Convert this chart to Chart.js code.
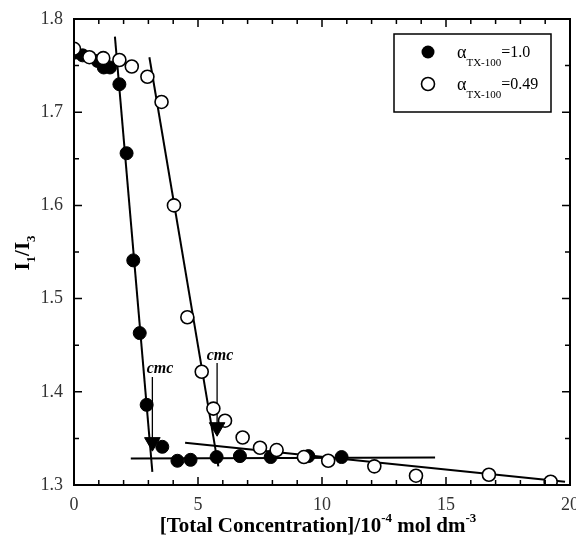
<!DOCTYPE html>
<html>
<head>
<meta charset="utf-8">
<script src="https://cdn.jsdelivr.net/npm/chart.js@4.4.0/dist/chart.umd.min.js"></script>
<style>
  html, body { margin: 0; padding: 0; background: #fff; }
  canvas { display: block; }
</style>
</head>
<body>
<canvas id="chart" width="576" height="538"></canvas>
<script>
/* I1/I3 vs total concentration, two TX-100 mole fractions */

// alpha TX-100 = 1.0 (filled circles)
const conc1 = [0.05, 0.35, 0.95, 1.2, 1.45, 1.83, 2.12, 2.39, 2.65, 2.93, 3.56, 4.17, 4.70, 5.75, 6.69, 7.93, 9.45, 10.79];
const ratio1 = [1.764, 1.761, 1.755, 1.748, 1.748, 1.730, 1.656, 1.541, 1.463, 1.386, 1.341, 1.326, 1.327, 1.330, 1.331, 1.330, 1.331, 1.330];

// alpha TX-100 = 0.49 (open circles)
const conc2 = [0.0, 0.62, 1.18, 1.83, 2.33, 2.96, 3.53, 4.03, 4.57, 5.15, 5.62, 6.09, 6.80, 7.50, 8.17, 9.27, 10.25, 12.11, 13.79, 16.73, 19.22];
const ratio2 = [1.768, 1.759, 1.758, 1.756, 1.749, 1.738, 1.711, 1.600, 1.480, 1.4215, 1.382, 1.369, 1.351, 1.340, 1.3375, 1.330, 1.326, 1.320, 1.310, 1.311, 1.3035];

// fitted straight lines (end points)
const fitSteep1X = [1.65, 3.16];
const fitSteep1Y = [1.781, 1.314];
const fitFlat1X = [2.29, 14.56];
const fitFlat1Y = [1.3285, 1.3295];
const fitSteep2X = [3.04, 5.82];
const fitSteep2Y = [1.759, 1.320];
const fitFlat2X = [4.48, 19.8];
const fitFlat2Y = [1.3454, 1.3035];

// cmc arrows: x, top of shaft, arrow head
const cmcX = [3.16, 5.77];
const cmcTop = [1.416, 1.431];
const cmcHead = [1.346, 1.362];
const cmcLabelX = [3.47, 5.89];
const cmcLabelY = [1.420, 1.434];

const xTickValues = [0, 5, 10, 15, 20];
const yTickValues = [1.3, 1.4, 1.5, 1.6, 1.7, 1.8];
const legendLabels = ['=1.0', '=0.49'];

const SERIF = '"Liberation Serif", "DejaVu Serif", serif';

function pts(xs, ys) {
    return xs.map((x, i) => ({ x: x, y: ys[i] }));
}

function lineSet(xs, ys, width) {
    return {
        data: pts(xs, ys),
        showLine: true,
        borderColor: '#000',
        borderWidth: width,
        pointRadius: 0,
        tension: 0,
        order: 5
    };
}

const datasets = [
    {
        label: 'a1',
        data: pts(conc1, ratio1),
        pointRadius: 6.5,
        pointBackgroundColor: '#000',
        pointBorderColor: '#000',
        pointBorderWidth: 1,
        showLine: false,
        order: 2
    },
    {
        label: 'a049',
        data: pts(conc2, ratio2),
        pointRadius: 6.5,
        pointBackgroundColor: '#fff',
        pointBorderColor: '#000',
        pointBorderWidth: 1.6,
        showLine: false,
        order: 1
    },
    {
        label: 'heads',
        data: pts(cmcX, cmcHead),
        pointStyle: 'triangle',
        rotation: 180,
        pointRadius: 9,
        pointBackgroundColor: '#000',
        pointBorderColor: '#000',
        showLine: false,
        order: 0
    },
    lineSet(fitSteep1X, fitSteep1Y, 2),
    lineSet(fitFlat1X, fitFlat1Y, 2),
    lineSet(fitSteep2X, fitSteep2Y, 2),
    lineSet(fitFlat2X, fitFlat2Y, 2),
    lineSet([cmcX[0], cmcX[0]], [cmcTop[0], cmcHead[0]], 1.3),
    lineSet([cmcX[1], cmcX[1]], [cmcTop[1], cmcHead[1]], 1.3)
];

// draw text pieces with sub/superscripts, returns width
function richText(ctx, parts, x, y, measureOnly) {
    let cx = x;
    parts.forEach(p => {
        ctx.font = p.font;
        if (!measureOnly) ctx.fillText(p.t, cx, y + (p.dy || 0));
        cx += ctx.measureText(p.t).width;
    });
    return cx - x;
}

const decorations = {
    id: 'decorations',
    afterDraw(chart) {
        const ctx = chart.ctx;
        const a = chart.chartArea;
        const xs = chart.scales.x;
        const ys = chart.scales.y;
        ctx.save();
        ctx.strokeStyle = '#000';
        ctx.fillStyle = '#000';

        // frame
        ctx.lineWidth = 2;
        ctx.strokeRect(a.left, a.top, a.right - a.left, a.bottom - a.top);

        // inward ticks on all four sides
        ctx.lineWidth = 1.5;
        ctx.beginPath();
        for (let v = 0; v <= 20; v++) {
            const px = xs.getPixelForValue(v);
            const len = v % 5 === 0 ? 8 : 5;
            ctx.moveTo(px, a.bottom); ctx.lineTo(px, a.bottom - len);
            ctx.moveTo(px, a.top); ctx.lineTo(px, a.top + len);
        }
        for (let k = 0; k <= 10; k++) {
            const py = ys.getPixelForValue(1.3 + k * 0.05);
            const len = k % 2 === 0 ? 8 : 5;
            ctx.moveTo(a.left, py); ctx.lineTo(a.left + len, py);
            ctx.moveTo(a.right, py); ctx.lineTo(a.right - len, py);
        }
        ctx.stroke();

        // cmc labels
        ctx.font = 'italic bold 16px ' + SERIF;
        ctx.textAlign = 'center';
        ctx.textBaseline = 'alphabetic';
        for (let i = 0; i < cmcX.length; i++) {
            ctx.fillText('cmc', xs.getPixelForValue(cmcLabelX[i]), ys.getPixelForValue(cmcLabelY[i]));
        }

        // legend box
        ctx.textAlign = 'left';
        ctx.lineWidth = 1.5;
        ctx.strokeRect(394, 34, 157, 78);
        const rows = [58, 90];
        rows.forEach((base, i) => {
            ctx.beginPath();
            ctx.arc(428, base - 6, 6.5, 0, Math.PI * 2);
            if (i === 0) {
                ctx.fill();
            } else {
                ctx.fillStyle = '#fff';
                ctx.fill();
                ctx.fillStyle = '#000';
                ctx.lineWidth = 1.6;
                ctx.stroke();
            }
            richText(ctx, [
                { t: '\u03b1', font: '18px ' + SERIF },
                { t: 'TX-100', font: '11px ' + SERIF, dy: 8 },
                { t: legendLabels[i], font: '16px ' + SERIF, dy: -1 }
            ], 457, base, false);
        });

        // x axis title
        const big = 'bold 21px ' + SERIF;
        const sup = 'bold 13px ' + SERIF;
        const xParts = [
            { t: '[Total Concentration]/10', font: big },
            { t: '-4', font: sup, dy: -10 },
            { t: ' mol dm', font: big },
            { t: '-3', font: sup, dy: -10 }
        ];
        const w = richText(ctx, xParts, 0, 0, true);
        richText(ctx, xParts, 318 - w / 2, 532, false);

        // y axis title
        ctx.translate(29, 253);
        ctx.rotate(-Math.PI / 2);
        const yParts = [
            { t: 'I', font: 'bold 21px ' + SERIF },
            { t: '1', font: 'bold 13px ' + SERIF, dy: 6 },
            { t: '/I', font: 'bold 21px ' + SERIF },
            { t: '3', font: 'bold 13px ' + SERIF, dy: 6 }
        ];
        const wy = richText(ctx, yParts, 0, 0, true);
        richText(ctx, yParts, -wy / 2, 0, false);

        ctx.restore();
    }
};

new Chart(document.getElementById('chart'), {
    type: 'scatter',
    data: { datasets: datasets },
    options: {
        responsive: false,
        animation: false,
        layout: { autoPadding: false, padding: { top: 19, right: 6, left: 0, bottom: 0 } },
        plugins: {
            legend: { display: false },
            tooltip: { enabled: false }
        },
        scales: {
            x: {
                type: 'linear',
                min: 0,
                max: 20,
                afterBuildTicks: (s) => { s.ticks = xTickValues.map(v => ({ value: v })); },
                afterFit: (s) => { s.height = 53; s.paddingLeft = 0; s.paddingRight = 0; },
                grid: { display: false, drawTicks: false },
                border: { display: false },
                ticks: {
                    padding: 9,
                    color: '#333',
                    font: { family: SERIF, size: 18 },
                    maxRotation: 0,
                    autoSkip: false,
                    callback: (v) => String(v)
                }
            },
            y: {
                type: 'linear',
                min: 1.3,
                max: 1.8,
                afterBuildTicks: (s) => { s.ticks = yTickValues.map(v => ({ value: v })); },
                afterFit: (s) => { s.width = 74; s.paddingTop = 0; s.paddingBottom = 0; },
                grid: { display: false, drawTicks: false },
                border: { display: false },
                ticks: {
                    padding: 11,
                    color: '#333',
                    font: { family: SERIF, size: 18 },
                    autoSkip: false,
                    callback: (v) => Number(v).toFixed(1)
                }
            }
        }
    },
    plugins: [decorations]
});
</script>
</body>
</html>
